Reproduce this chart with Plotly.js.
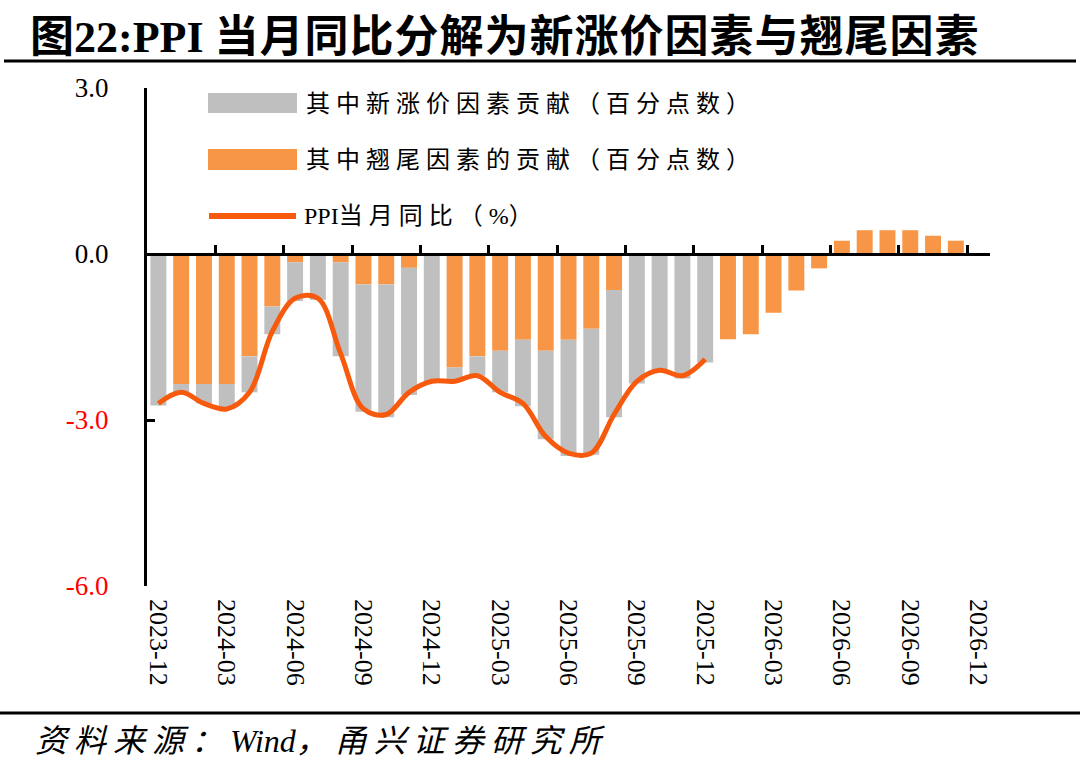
<!DOCTYPE html>
<html>
<head>
<meta charset="utf-8">
<script src="https://cdn.plot.ly/plotly-3.0.1.min.js"></script>
<style>
  html, body { margin: 0; padding: 0; background: #ffffff; }
  #chart { width: 1080px; height: 761px; }
</style>
</head>
<body>
<div id="chart"></div>
<script>
// ---- Data ----
const months = [
  '2023-12','2024-01','2024-02','2024-03','2024-04','2024-05','2024-06','2024-07','2024-08','2024-09','2024-10','2024-11',
  '2024-12','2025-01','2025-02','2025-03','2025-04','2025-05','2025-06','2025-07','2025-08','2025-09','2025-10','2025-11',
  '2025-12','2026-01','2026-02','2026-03','2026-04','2026-05','2026-06','2026-07','2026-08','2026-09','2026-10','2026-11',
  '2026-12'
];
// 其中翘尾因素的贡献（百分点数）
const carryover = [
  0, -2.35, -2.35, -2.35, -1.85, -0.95, -0.15, 0, -0.15, -0.55, -0.55, -0.25,
  0, -2.05, -1.85, -1.75, -1.55, -1.75, -1.55, -1.35, -0.65, 0, 0, 0,
  0, -1.54, -1.45, -1.06, -0.66, -0.26, 0.24, 0.43, 0.43, 0.43, 0.33, 0.24,
  null
];
// 其中新涨价因素贡献（百分点数）
const newPrice = [
  -2.74, -0.15, -0.35, -0.45, -0.65, -0.50, -0.70, -0.83, -1.70, -2.30, -2.40, -2.30,
  -2.31, -0.25, -0.35, -0.75, -1.20, -1.60, -2.10, -2.28, -2.30, -2.34, -2.13, -2.25,
  -1.96, null, null, null, null, null, null, null, null, null, null, null,
  null
];
// PPI当月同比（%）
const ppiYoY = [
  -2.7, -2.5, -2.7, -2.8, -2.5, -1.4, -0.8, -0.8, -1.8, -2.8, -2.9, -2.5,
  -2.3, -2.3, -2.2, -2.5, -2.7, -3.3, -3.6, -3.6, -2.9, -2.3, -2.1, -2.2,
  -1.9, null, null, null, null, null, null, null, null, null, null, null,
  null
];
const yTickVals = [-6, -3, 0, 3];
const yTickText = ['-6.0', '-3.0', '0.0', '3.0'];
const seriesNames = ['其中新涨价因素贡献（百分点数）', '其中翘尾因素的贡献（百分点数）', 'PPI当月同比（%）'];

// ---- Styles ----
const GRAY = '#bfbfbf';
const ORANGE = '#f79646';
const LINE = '#f75a0c';
const SERIF = 'Liberation Serif, Noto Sans CJK SC, serif';

// wrap CJK runs in letter-spaced spans, leave Latin runs as they are
function spaced(txt, sp) {
  return txt.replace(/([^\x00-\x7F]+)/g, '<span style="letter-spacing:' + sp + 'px">$1</span>');
}

const xIdx = months.map((m, i) => i);
const labelIdx = xIdx.filter(i => i % 3 === 0);
const boundaryIdx = xIdx.filter(i => i % 3 === 2 && i < months.length - 1).map(i => i + 0.5);

const traces = [
  { type: 'bar', x: xIdx, y: carryover, name: seriesNames[1], marker: { color: ORANGE }, showlegend: false, hoverinfo: 'skip' },
  { type: 'bar', x: xIdx, y: newPrice, name: seriesNames[0], marker: { color: GRAY }, showlegend: false, hoverinfo: 'skip' },
  { type: 'scatter', mode: 'lines', x: xIdx, y: ppiYoY, xaxis: 'x2', yaxis: 'y', name: seriesNames[2],
    line: { color: LINE, width: 5, shape: 'spline', smoothing: 1 }, connectgaps: false, showlegend: false, hoverinfo: 'skip' }
];

// helpers: pixel -> paper coords (plot area 147..990 x, 88..586 y)
const L = 147, R = 990, T = 88, B = 586;
const px = v => (v - L) / (R - L);
const py = v => (B - v) / (B - T);

const layout = {
  width: 1080, height: 761,
  paper_bgcolor: '#ffffff', plot_bgcolor: '#ffffff',
  margin: { l: L, r: 1080 - R, t: T, b: 761 - B, pad: 0 },
  barmode: 'relative',
  bargap: 0.3,
  showlegend: false,
  title: {
    text: '图22:PPI ' + '<span style="letter-spacing:1px">当月同比分解为新涨价因素与翘尾因素</span>',
    xref: 'container', yref: 'container',
    x: 30 / 1080, xanchor: 'left',
    y: 1 - 37 / 761, yanchor: 'middle',
    font: { family: SERIF, size: 44, color: '#000000', weight: 'bold' }
  },
  xaxis: {
    range: [-0.5, months.length - 0.5],
    tickmode: 'array',
    tickvals: labelIdx,
    ticktext: labelIdx.map(i => months[i]),
    tickangle: 90,
    ticks: '',
    showline: false, showgrid: false, zeroline: false,
    ticklabelstandoff: 12,
    tickfont: { family: 'Liberation Serif', size: 26, color: '#000000' },
    fixedrange: true
  },
  xaxis2: {
    overlaying: 'x',
    anchor: 'free',
    position: py(254),
    side: 'bottom',
    range: [-0.5, months.length - 0.5],
    tickmode: 'array',
    tickvals: boundaryIdx,
    ticks: 'inside', ticklen: 8, tickwidth: 3, tickcolor: '#000000',
    showticklabels: false,
    showline: true, linecolor: '#000000', linewidth: 3,
    showgrid: false, zeroline: false,
    fixedrange: true
  },
  yaxis: {
    range: [-6, 3],
    tickmode: 'array',
    tickvals: yTickVals,
    ticktext: yTickText.map(t => t.startsWith('-') ? '<span style="color:#ff0000">' + t + '</span>' : t),
    ticks: 'inside', ticklen: 8, tickwidth: 3, tickcolor: '#000000',
    showline: true, linecolor: '#000000', linewidth: 3,
    showgrid: false, zeroline: false,
    ticklabelstandoff: 30,
    tickfont: { family: 'Liberation Serif', size: 27, color: '#000000' },
    fixedrange: true
  },
  shapes: [
    // title rule and source rule
    { type: 'line', xref: 'paper', yref: 'paper', x0: px(4), x1: px(1076), y0: py(61), y1: py(61), line: { color: '#000000', width: 3 } },
    { type: 'line', xref: 'paper', yref: 'paper', x0: px(0), x1: px(1080), y0: py(713), y1: py(713), line: { color: '#000000', width: 3 } },
    // legend swatches
    { type: 'rect', xref: 'paper', yref: 'paper', x0: px(208), x1: px(297), y0: py(113), y1: py(93), fillcolor: GRAY, line: { width: 0 } },
    { type: 'rect', xref: 'paper', yref: 'paper', x0: px(208), x1: px(297), y0: py(170), y1: py(149), fillcolor: ORANGE, line: { width: 0 } },
    { type: 'line', xref: 'paper', yref: 'paper', x0: px(209), x1: px(296), y0: py(216), y1: py(216), line: { color: LINE, width: 6 } }
  ],
  annotations: [
    { xref: 'paper', yref: 'paper', x: px(304), y: py(104), xanchor: 'left', yanchor: 'middle', showarrow: false,
      text: spaced(seriesNames[0], 6), font: { family: SERIF, size: 24, color: '#000000' } },
    { xref: 'paper', yref: 'paper', x: px(304), y: py(160), xanchor: 'left', yanchor: 'middle', showarrow: false,
      text: spaced(seriesNames[1], 6), font: { family: SERIF, size: 24, color: '#000000' } },
    { xref: 'paper', yref: 'paper', x: px(302), y: py(216), xanchor: 'left', yanchor: 'middle', showarrow: false,
      text: spaced(seriesNames[2], 6), font: { family: SERIF, size: 24, color: '#000000' } },
    { xref: 'paper', yref: 'paper', x: px(33), y: py(741), xanchor: 'left', yanchor: 'middle', showarrow: false,
      text: '<i>' + spaced('资料来源：Wind，甬兴证券研究所', 7) + '</i>', font: { family: SERIF, size: 32, color: '#000000' } }
  ]
};

Plotly.newPlot('chart', traces, layout, { displayModeBar: false, staticPlot: true });
</script>
</body>
</html>
